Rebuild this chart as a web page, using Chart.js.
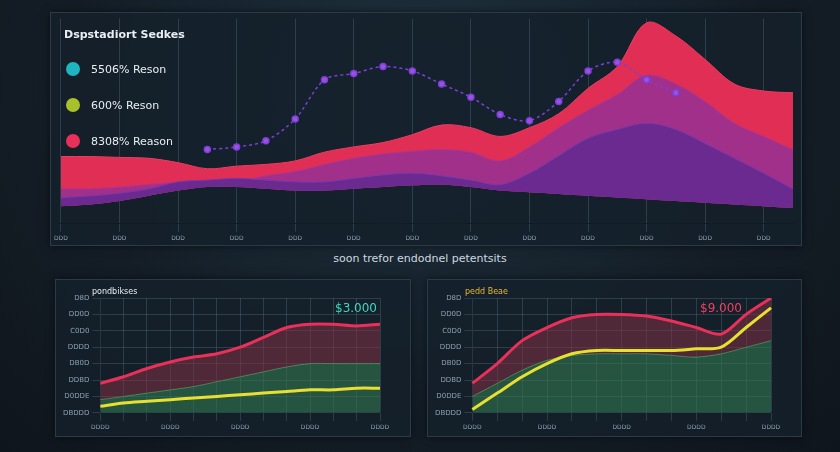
<!DOCTYPE html>
<html><head><meta charset="utf-8">
<script src="https://cdn.jsdelivr.net/npm/chart.js@4"></script>
<style>
body{margin:0;width:840px;height:452px;background:radial-gradient(ellipse at 50% 20%,#1f3340 0%,#141d26 60%,#0f151c 100%);font-family:"DejaVu Sans",sans-serif;overflow:hidden;position:relative;color:#cfd8e0}
.p{position:absolute;background:rgba(20,32,42,0.85);border:1px solid #2a3a48;box-shadow:0 0 8px #0008}
.t{position:absolute;font-size:11px;color:#e8eef2}
.cap{position:absolute;left:0;width:840px;top:252px;text-align:center;font-size:11px;color:#cfd8e0}
canvas{display:block}
</style></head><body>
<div class="p" style="left:50px;top:12px;width:750px;height:232px"><canvas id="c1" width="750" height="232"></canvas></div>
<div class="t" style="left:64px;top:28px;font-weight:bold">Dspstadiort Sedkes</div>
<div class="cap">soon trefor endodnel petentsits</div>
<div class="p" style="left:55px;top:279px;width:354px;height:156px"><canvas id="c2" width="354" height="156"></canvas></div>
<div class="p" style="left:427px;top:279px;width:373px;height:156px"><canvas id="c3" width="373" height="156"></canvas></div>
<div class="t" style="left:92px;top:287px;font-size:8px">pondbikses</div>
<div class="t" style="left:335px;top:301px;color:#3cd6c4;font-size:12px">$3.000</div>
<div class="t" style="left:465px;top:287px;font-size:8px;color:#e8b830">pedd Beae</div>
<div class="t" style="left:700px;top:301px;color:#f04060;font-size:12px">$9.000</div>
<script>
const topLabels=[60,90,120,150,180,210,240,270,300,330,360,390,420,450,480,510,540,570,600,630,655,680,710,740,760,790];
const redTop=[77,77,76,75,70,63,66,68,72,82,88,93,102,113,110,100,110,126,155,180,230,215,188,160,152,150];
const magenta=[40,40,42,45,47,45,48,55,60,68,75,80,83,85,82,72,88,110,130,148,170,160,140,115,100,85];
const purple=[30,32,35,40,48,50,52,50,48,48,52,56,58,55,50,45,58,78,98,108,115,108,92,75,58,40];
const base=[20,22,26,32,38,42,42,40,38,38,40,42,44,45,42,38,36,34,32,30,28,26,24,22,20,18];
const dotLine=[null,null,null,null,null,85,88,95,120,165,172,180,175,160,145,125,118,140,175,185,165,150,null,null,null,null];
const legendTxt=["5506% Reson","600% Reson","8308% Reason"];
const legendCol=["#1fb5c0","#a8c02a","#e8305a"];
const bL=[0,1,2,3,4,5,6,7,8,9,10,11,12];
const bRed=[18,22,27,31,34,36,40,46,52,54,54,53,54];
const bGreen=[8,10,12,14,16,19,22,25,28,30,30,30,30];
const bYel=[4,6,7,8,9,10,11,12,13,14,14,15,15];
const rRed=[18,30,44,52,58,60,60,59,56,52,48,60,70];
const rGreen=[10,18,26,32,35,36,36,36,35,34,36,40,44];
const rYel=[2,12,22,30,36,38,38,38,38,39,40,52,64];
const yLeft=["DBDDD","D0DDE","DDBD","DB0D","DDDD","C0D0","DD0D","D8D"];
Chart.defaults.font.family="DejaVu Sans";
Chart.defaults.color="#8ea0b0";
const grid={color:"rgba(120,150,170,0.25)"};
new Chart(c1,{type:"line",data:{labels:topLabels,datasets:[
{data:base,borderWidth:0,pointRadius:0,fill:false,tension:0.35,order:5},
{data:dotLine,borderColor:"#7a40d8",borderDash:[3,3],borderWidth:1.5,pointRadius:3,pointBackgroundColor:"#a050e0",fill:false,tension:0.3,order:0},
{data:purple,backgroundColor:"#6a2a90",borderColor:"#7a3aa8",borderWidth:1,fill:0,pointRadius:0,tension:0.35,order:1},
{data:magenta,backgroundColor:"#a0308a",borderColor:"#b03590",borderWidth:1,fill:0,pointRadius:0,tension:0.35,order:2},
{data:redTop,backgroundColor:"#e02e55",borderColor:"#f03c60",borderWidth:1,fill:0,pointRadius:0,tension:0.35,order:3}]},
options:{animation:false,responsive:false,layout:{padding:{left:8,right:8,top:0,bottom:0}},plugins:{legend:{display:false}},
scales:{x:{grid,ticks:{font:{size:6},maxRotation:0,autoSkip:true,maxTicksLimit:14,callback:()=>"DDD"}},y:{display:false,min:0,max:235}}},
plugins:[{id:"lg",afterDraw(ch){const x=ch.ctx;legendTxt.forEach((t,i)=>{const y=56+i*36;x.fillStyle=legendCol[i];x.beginPath();x.arc(22,y,7,0,7);x.fill();x.fillStyle="#e8eef2";x.font="11px DejaVu Sans";x.fillText(t,40,y+4);});}}]});
function small(id,r,g,yl,lab){new Chart(id,{type:"line",data:{labels:bL,datasets:[
{data:yl,borderColor:"#e8e030",borderWidth:3,pointRadius:0,tension:0.3,fill:false},
{data:r,borderColor:"#e8305a",borderWidth:3,pointRadius:0,tension:0.3,fill:2,backgroundColor:"rgba(130,50,70,0.55)"},
{data:g,borderColor:"#40a060",borderWidth:1,pointRadius:0,tension:0.3,fill:"origin",backgroundColor:"rgba(50,120,80,0.6)"}]},
options:{animation:false,responsive:false,layout:{padding:{top:18,right:30,left:4,bottom:2}},plugins:{legend:{display:false}},
scales:{x:{grid,ticks:{font:{size:6},maxRotation:0,callback:(v,i)=>i%3==0?"DDDD":""}},y:{min:0,max:70,grid,ticks:{stepSize:10,font:{size:7},callback:(v,i)=>lab[i]||""}}}}});}
small(c2,bRed,bGreen,bYel,yLeft);
small(c3,rRed,rGreen,rYel,yLeft);
</script></body></html>
